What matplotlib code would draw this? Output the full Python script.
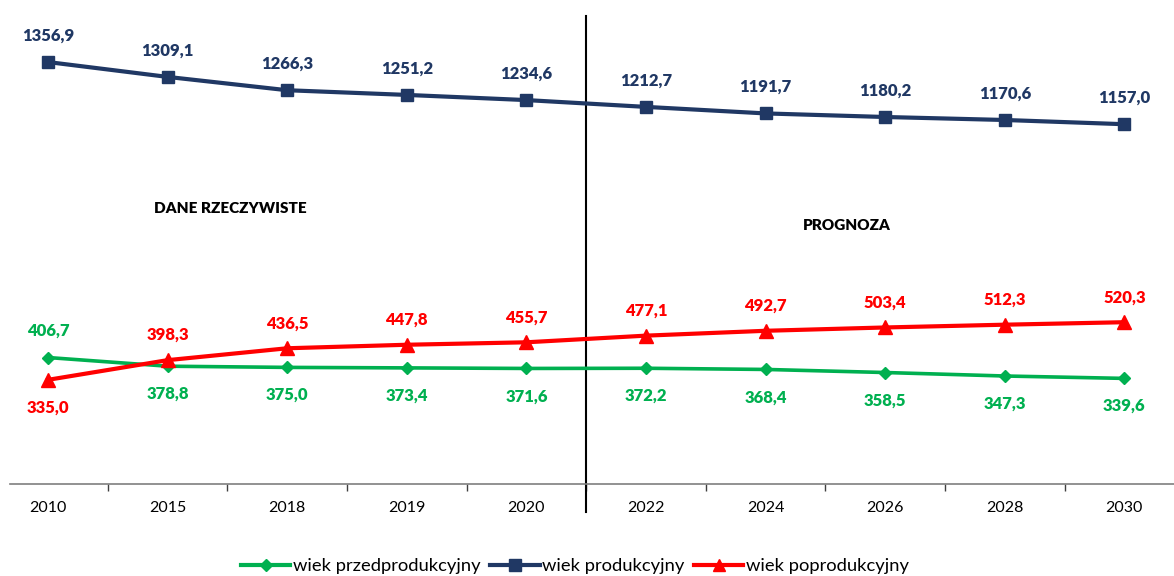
import matplotlib.pyplot as plt
from matplotlib.lines import Line2D

plt.rcParams['font.family'] = ['Lato', 'DejaVu Sans']

years = ['2010', '2015', '2018', '2019', '2020', '2022', '2024', '2026', '2028', '2030']
przedprodukcyjny = [406.7, 378.8, 375.0, 373.4, 371.6, 372.2, 368.4, 358.5, 347.3, 339.6]
produkcyjny = [1356.9, 1309.1, 1266.3, 1251.2, 1234.6, 1212.7, 1191.7, 1180.2, 1170.6, 1157.0]
poprodukcyjny = [335.0, 398.3, 436.5, 447.8, 455.7, 477.1, 492.7, 503.4, 512.3, 520.3]

GREEN = '#00B050'
BLUE = '#203864'
RED = '#FF0000'


def fmt(v):
    return f"{v:.1f}".replace('.', ',')


W, H = 1174, 576
fig = plt.figure(figsize=(W / 100, H / 100), dpi=100)
# axes area in pixels: x 10..1174, y 16..484
ax = fig.add_axes([10 / W, (H - 484) / H, (1174 - 10) / W, (484 - 16) / H])

x = list(range(len(years)))
ax.plot(x, przedprodukcyjny, color=GREEN, lw=2.6, marker='D', ms=6.5, zorder=3)
ax.plot(x, produkcyjny, color=BLUE, lw=3, marker='s', ms=8.5, zorder=3)
ax.plot(x, poprodukcyjny, color=RED, lw=3, marker='^', ms=9.5, zorder=3)

lab = dict(ha='center', va='center', fontsize=12, fontweight='heavy')
for i, v in enumerate(produkcyjny):
    ax.annotate(fmt(v), (i, v), xytext=(0, 19), textcoords='offset points', color=BLUE, **lab)
for i, v in enumerate(przedprodukcyjny):
    off = 19 if i == 0 else -20
    ax.annotate(fmt(v), (i, v), xytext=(0, off), textcoords='offset points', color=GREEN, **lab)
for i, v in enumerate(poprodukcyjny):
    off = -20 if i == 0 else 18
    ax.annotate(fmt(v), (i, v), xytext=(0, off), textcoords='offset points', color=RED, **lab)

ax.text(1.525, 885, 'DANE RZECZYWISTE', ha='center', va='center', fontsize=11, fontweight='heavy')
ax.text(6.68, 832, 'PROGNOZA', ha='center', va='center', fontsize=11, fontweight='heavy')

# divider between actual data and forecast
ax.plot([4.5, 4.5], [-0.06, 1.0], color='black', lw=1.5,
        transform=ax.get_xaxis_transform(), clip_on=False)

ax.set_yticks([])
for s in ['left', 'right', 'top']:
    ax.spines[s].set_visible(False)
ax.spines['bottom'].set_color('#7f7f7f')
ax.spines['bottom'].set_linewidth(1.2)

ax.set_xticks([i + 0.5 for i in range(len(years) - 1)])
ax.set_xticklabels([])
ax.set_xticks(x, minor=True)
ax.set_xticklabels(years, minor=True, fontsize=11.5)
ax.tick_params(axis='x', which='major', length=5, width=1, color='#404040')
ax.tick_params(axis='x', which='minor', length=0, pad=12)

# limits after ticks so set_xticks does not widen them
ax.set_xlim(-0.318, 9.415)
ax.set_ylim(0, 1505)

handles = [
    Line2D([], [], color=GREEN, lw=3, marker='D', ms=6.5),
    Line2D([], [], color=BLUE, lw=3, marker='s', ms=8),
    Line2D([], [], color=RED, lw=3, marker='^', ms=9),
]
fig.legend(handles, ['wiek przedprodukcyjny', 'wiek produkcyjny', 'wiek poprodukcyjny'],
           loc='center', bbox_to_anchor=(575 / W, (H - 566) / H), ncol=3, frameon=False,
           fontsize=13.2, handlelength=2.7, handletextpad=0.15, columnspacing=0.5)

fig.savefig('out.png', dpi=100)
